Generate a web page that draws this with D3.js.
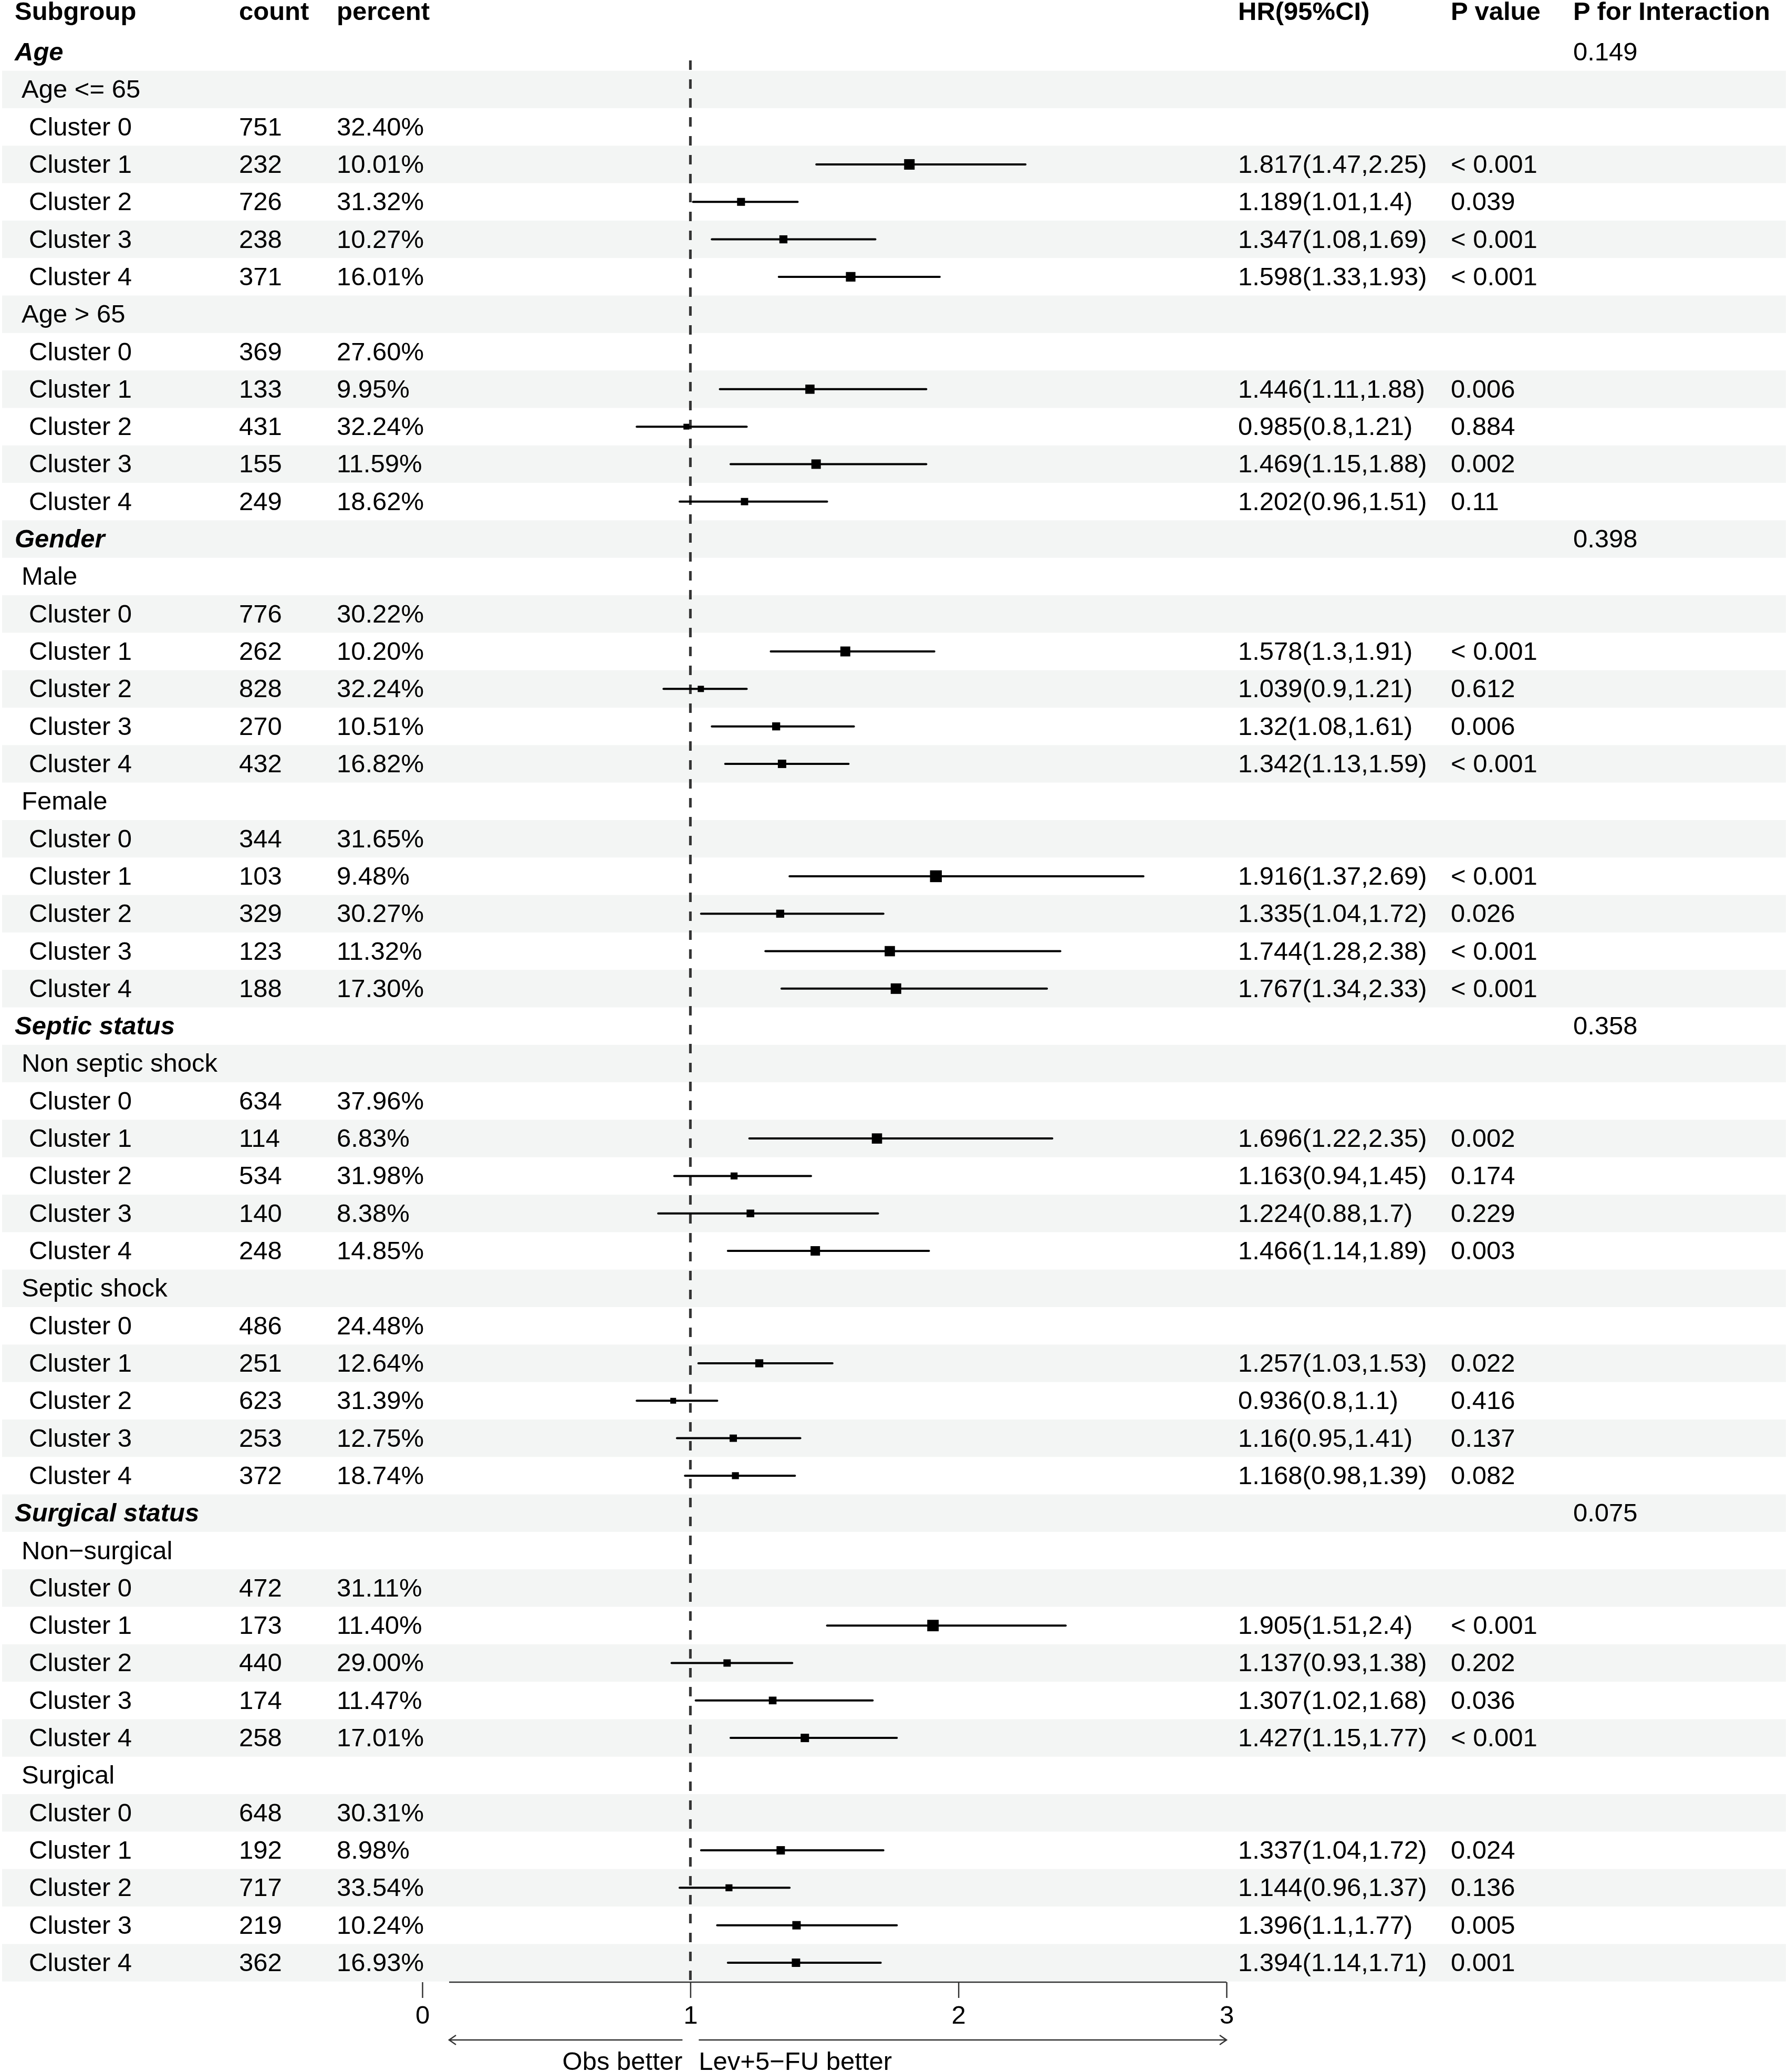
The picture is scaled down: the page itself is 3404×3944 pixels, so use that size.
<!DOCTYPE html>
<html><head><meta charset="utf-8">
<script src="https://cdn.jsdelivr.net/npm/d3@7"></script>
<style>body{margin:0;background:#fff} svg{display:block}</style>
</head><body>
<svg id="c" width="3404" height="3944"></svg>
<script>
// ---------- data ----------
const groups = ["Age", "Gender", "Septic status", "Surgical status"];
const pInteraction = ["0.149", "0.398", "0.358", "0.075"];
const subgroups = ["Age <= 65", "Age > 65", "Male", "Female", "Non septic shock", "Septic shock", "Non\u2212surgical", "Surgical"];
const clusters = ["Cluster 0", "Cluster 1", "Cluster 2", "Cluster 3", "Cluster 4"];
const counts = [751,232,726,238,371, 369,133,431,155,249, 776,262,828,270,432, 344,103,329,123,188,
                634,114,534,140,248, 486,251,623,253,372, 472,173,440,174,258, 648,192,717,219,362];
const percents = ["32.40%","10.01%","31.32%","10.27%","16.01%", "27.60%","9.95%","32.24%","11.59%","18.62%",
                  "30.22%","10.20%","32.24%","10.51%","16.82%", "31.65%","9.48%","30.27%","11.32%","17.30%",
                  "37.96%","6.83%","31.98%","8.38%","14.85%", "24.48%","12.64%","31.39%","12.75%","18.74%",
                  "31.11%","11.40%","29.00%","11.47%","17.01%", "30.31%","8.98%","33.54%","10.24%","16.93%"];
// Cluster 0 is the reference (no estimate)
const hr    = [null,1.817,1.189,1.347,1.598, null,1.446,0.985,1.469,1.202, null,1.578,1.039,1.32,1.342, null,1.916,1.335,1.744,1.767,
               null,1.696,1.163,1.224,1.466, null,1.257,0.936,1.16,1.168, null,1.905,1.137,1.307,1.427, null,1.337,1.144,1.396,1.394];
const lower = [null,1.47,1.01,1.08,1.33, null,1.11,0.8,1.15,0.96, null,1.3,0.9,1.08,1.13, null,1.37,1.04,1.28,1.34,
               null,1.22,0.94,0.88,1.14, null,1.03,0.8,0.95,0.98, null,1.51,0.93,1.02,1.15, null,1.04,0.96,1.1,1.14];
const upper = [null,2.25,1.4,1.69,1.93, null,1.88,1.21,1.88,1.51, null,1.91,1.21,1.61,1.59, null,2.69,1.72,2.38,2.33,
               null,2.35,1.45,1.7,1.89, null,1.53,1.1,1.41,1.39, null,2.4,1.38,1.68,1.77, null,1.72,1.37,1.77,1.71];
const pValues = ["","< 0.001","0.039","< 0.001","< 0.001", "","0.006","0.884","0.002","0.11", "","< 0.001","0.612","0.006","< 0.001",
                 "","< 0.001","0.026","< 0.001","< 0.001", "","0.002","0.174","0.229","0.003", "","0.022","0.416","0.137","0.082",
                 "","< 0.001","0.202","0.036","< 0.001", "","0.024","0.136","0.005","0.001"];
const weights = [null,0.89,0.67,0.68,0.81, null,0.78,0.49,0.80,0.62, null,0.84,0.53,0.68,0.71, null,1.00,0.68,0.87,0.89,
                 null,0.87,0.59,0.65,0.80, null,0.68,0.49,0.62,0.59, null,0.97,0.62,0.65,0.71, null,0.71,0.59,0.71,0.71];
const xTicks = [0, 1, 2, 3];
const headers = ["Subgroup", "count", "percent", "HR(95%CI)", "P value", "P for Interaction"];
const arrowLabels = ["Obs better", "Lev+5\u2212FU better"];

// ---------- build rows ----------
const rows = [];
groups.forEach((g, gi) => {
  rows.push({type: "group", label: g, pint: pInteraction[gi]});
  [0, 1].forEach(si => {
    const s = gi * 2 + si;
    rows.push({type: "sub", label: subgroups[s]});
    clusters.forEach((c, ci) => {
      const k = s * 5 + ci;
      rows.push({type: "cl", label: c, count: counts[k], pct: percents[k], hr: hr[k], lo: lower[k], hi: upper[k], p: pValues[k], w: weights[k]});
    });
  });
});

// ---------- layout ----------
const FONT = "'Liberation Sans', Arial, Helvetica, sans-serif";
const FS = 49;
const svg = d3.select("#c").attr("font-family", FONT);
const y = d3.scaleLinear().domain([0, rows.length - 1]).range([99, 3736]);
const rowH = y(1) - y(0);
const x = d3.scaleLinear().domain([0, 3]).range([804, 2335]);
const boxScale = d3.scaleLinear().domain([0, 1]).range([0, 22.5]);
const col = {sub: 28, count: 455, pct: 641, hr: 2357, p: 2762, pint: 2995};
const baseOff = 16;

// background bands
svg.append("g").selectAll("rect").data(rows.map((r, i) => i).filter(i => i % 2 === 1)).join("rect")
  .attr("x", 4).attr("width", 3396)
  .attr("y", i => y(i) - rowH / 2).attr("height", rowH)
  .attr("fill", "#f3f5f4");

// header
const hx = [col.sub, col.count, col.pct, col.hr, col.p, col.pint];
svg.append("g").selectAll("text").data(headers).join("text")
  .attr("x", (d, i) => hx[i]).attr("y", 38)
  .attr("font-size", FS).attr("font-weight", "bold").text(d => d);

// text cells
const tg = svg.append("g").attr("font-size", FS);
rows.forEach((r, i) => {
  const ty = y(i) + baseOff;
  if (r.type === "group") {
    tg.append("text").attr("x", col.sub).attr("y", ty).attr("font-weight", "bold").attr("font-style", "italic").text(r.label);
    tg.append("text").attr("x", col.pint).attr("y", ty).text(r.pint);
  } else if (r.type === "sub") {
    tg.append("text").attr("x", col.sub + 13).attr("y", ty).text(r.label);
  } else {
    tg.append("text").attr("x", col.sub + 27).attr("y", ty).text(r.label);
    tg.append("text").attr("x", col.count).attr("y", ty).text(r.count);
    tg.append("text").attr("x", col.pct).attr("y", ty).text(r.pct);
    if (r.hr !== null) {
      tg.append("text").attr("x", col.hr).attr("y", ty).text(`${r.hr}(${r.lo},${r.hi})`);
      tg.append("text").attr("x", col.p).attr("y", ty).text(r.p);
    }
  }
});

// reference line
const axisY = 3773;
svg.append("line").attr("x1", x(1)).attr("x2", x(1)).attr("y1", 115).attr("y2", axisY)
  .attr("stroke", "#333").attr("stroke-width", 5).attr("stroke-dasharray", "18,18");

// CIs
const est = rows.map((r, i) => ({...r, i})).filter(r => r.type === "cl" && r.hr !== null);
const cg = svg.append("g");
cg.selectAll("line").data(est).join("line")
  .attr("x1", d => x(d.lo)).attr("x2", d => x(d.hi))
  .attr("y1", d => y(d.i)).attr("y2", d => y(d.i))
  .attr("stroke", "#000").attr("stroke-width", 4).attr("stroke-linecap", "round");
cg.selectAll("rect").data(est).join("rect")
  .attr("x", d => x(d.hr) - boxScale(d.w) / 2).attr("y", d => y(d.i) - boxScale(d.w) / 2)
  .attr("width", d => boxScale(d.w)).attr("height", d => boxScale(d.w))
  .attr("fill", "#000");

// x axis
const ax = svg.append("g").attr("transform", `translate(0,${axisY})`)
  .call(d3.axisBottom(x).tickValues(xTicks).tickSize(30).tickPadding(14).tickFormat(d3.format("d")));
ax.select(".domain").remove();
ax.selectAll(".tick line").attr("stroke", "#333").attr("stroke-width", 2.5);
ax.selectAll(".tick text").attr("font-size", FS).attr("font-family", FONT).attr("fill", "#000");
svg.append("line").attr("x1", x(0.1)).attr("x2", x(3)).attr("y1", axisY).attr("y2", axisY)
  .attr("stroke", "#333").attr("stroke-width", 2.5);

// arrows
const arY = 3883;
const ag = svg.append("g").attr("stroke", "#333").attr("stroke-width", 2.5).attr("fill", "none");
ag.append("line").attr("x1", x(0.1)).attr("x2", x(1) - 15).attr("y1", arY).attr("y2", arY);
ag.append("path").attr("d", `M${x(0.1) + 13},${arY - 9}L${x(0.1)},${arY}L${x(0.1) + 13},${arY + 9}`);
ag.append("line").attr("x1", x(1) + 16).attr("x2", x(3)).attr("y1", arY).attr("y2", arY);
ag.append("path").attr("d", `M${x(3) - 13},${arY - 9}L${x(3)},${arY}L${x(3) - 13},${arY + 9}`);
svg.append("text").attr("x", x(1) - 15).attr("y", 3940).attr("text-anchor", "end").attr("font-size", FS).text(arrowLabels[0]);
svg.append("text").attr("x", x(1) + 16).attr("y", 3940).attr("font-size", FS).text(arrowLabels[1]);
</script>
</body></html>
